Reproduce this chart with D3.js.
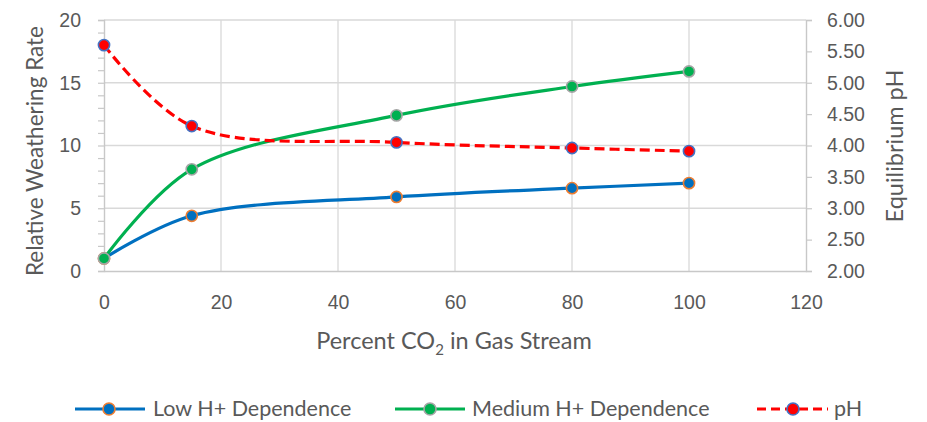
<!DOCTYPE html>
<html>
<head>
<meta charset="utf-8">
<script src="https://cdn.jsdelivr.net/npm/d3@7"></script>
<style>
  html, body { margin: 0; padding: 0; background: #fff; }
  svg { display: block; font-family: Lato, "Open Sans", sans-serif; }
</style>
</head>
<body>
<svg id="chart" width="927" height="422"></svg>
<script>
// Percent CO2 in the gas stream
const co2 = [0, 15, 50, 80, 100];
// Relative weathering rates
const lowH = [1.0, 4.4, 5.9, 6.6, 7.0];
const mediumH = [1.0, 8.1, 12.4, 14.7, 15.9];
// Equilibrium pH
const pH = [5.60, 4.31, 4.05, 3.96, 3.91];

const xTicks = [0, 20, 40, 60, 80, 100, 120];
const yLeftTicks = [0, 5, 10, 15, 20];
const yRightTicks = [2.0, 2.5, 3.0, 3.5, 4.0, 4.5, 5.0, 5.5, 6.0];

const svg = d3.select("#chart");
const m = { left: 104, right: 806, top: 20, bottom: 271 };

const x = d3.scaleLinear().domain([0, 120]).range([m.left, m.right]);
const yL = d3.scaleLinear().domain([0, 20]).range([m.bottom, m.top]);
const yR = d3.scaleLinear().domain([2, 6]).range([m.bottom, m.top]);

const grid = "#d9d9d9";
const axisCol = "#c8c8c8";
const textCol = "#595959";
const tickFont = 19.5;

// gridlines
svg.append("g").selectAll("line").data(yLeftTicks.slice(1)).join("line")
  .attr("x1", m.left).attr("x2", m.right)
  .attr("y1", d => yL(d)).attr("y2", d => yL(d))
  .attr("stroke", grid).attr("stroke-width", 1.3);
svg.append("g").selectAll("line").data(xTicks.slice(1, -1)).join("line")
  .attr("x1", d => x(d)).attr("x2", d => x(d))
  .attr("y1", m.top).attr("y2", m.bottom)
  .attr("stroke", grid).attr("stroke-width", 1.3);

// left axis with minor ticks at every unit
const gL = svg.append("g").attr("transform", `translate(${m.left},0)`)
  .call(d3.axisLeft(yL).tickValues(d3.range(0, 21, 1)).tickSize(6)
    .tickFormat(d => yLeftTicks.includes(d) ? d : ""));
gL.select(".domain").attr("stroke", axisCol).attr("stroke-width", 1.4);
gL.selectAll(".tick line").attr("stroke", axisCol).attr("stroke-width", 1.2);
gL.selectAll(".tick text").attr("fill", textCol).attr("font-size", tickFont).attr("x", -23);

// right axis
const gR = svg.append("g").attr("transform", `translate(${m.right},0)`)
  .call(d3.axisRight(yR).tickValues(yRightTicks).tickSize(6).tickFormat(d3.format(".2f")));
gR.select(".domain").attr("stroke", axisCol).attr("stroke-width", 1.4);
gR.selectAll(".tick line").attr("stroke", axisCol).attr("stroke-width", 1.2);
gR.selectAll(".tick text").attr("fill", textCol).attr("font-size", tickFont).attr("x", 21);

// bottom axis
const gB = svg.append("g").attr("transform", `translate(0,${m.bottom})`)
  .call(d3.axisBottom(x).tickValues(xTicks).tickSize(0));
gB.select(".domain").attr("stroke", axisCol).attr("stroke-width", 1.4);
gB.selectAll(".tick text").attr("fill", textCol).attr("font-size", tickFont).attr("y", 24);

// axis titles
svg.append("text").attr("transform", `translate(43,151) rotate(-90)`)
  .attr("text-anchor", "middle").attr("fill", textCol).attr("font-size", 22.5)
  .text("Relative Weathering Rate");
svg.append("text").attr("transform", `translate(903,146) rotate(-90)`)
  .attr("text-anchor", "middle").attr("fill", textCol).attr("font-size", 23.5)
  .text("Equilibrium pH");
const xt = svg.append("text").attr("x", 454).attr("y", 349)
  .attr("text-anchor", "middle").attr("fill", textCol).attr("font-size", 23.5);
xt.append("tspan").text("Percent CO");
xt.append("tspan").attr("font-size", 15).attr("dy", 6).text("2");
xt.append("tspan").attr("dy", -6).text(" in Gas Stream");

// series
const series = [
  { name: "Low H+ Dependence", vals: lowH, y: yL, line: "#0070C0", fill: "#0070C0", stroke: "#ED7D31", dash: null },
  { name: "Medium H+ Dependence", vals: mediumH, y: yL, line: "#00B050", fill: "#00B050", stroke: "#A5A5A5", dash: null },
  { name: "pH", vals: pH, y: yR, line: "#FF0000", fill: "#FF0000", stroke: "#4472C4", dash: "10,5" }
];

series.forEach(s => {
  const pts = co2.map((c, i) => [c, s.vals[i]]);
  const line = d3.line().x(d => x(d[0])).y(d => s.y(d[1])).curve(d3.curveCatmullRom.alpha(0.5));
  svg.append("path").datum(pts).attr("d", line)
    .attr("fill", "none").attr("stroke", s.line).attr("stroke-width", 3.2)
    .attr("stroke-dasharray", s.dash);
  svg.append("g").selectAll("circle").data(pts).join("circle")
    .attr("cx", d => x(d[0])).attr("cy", d => s.y(d[1])).attr("r", 5.6)
    .attr("fill", s.fill).attr("stroke", s.stroke).attr("stroke-width", 1.6);
});

// legend
const legend = [
  { s: series[0], x1: 75, x2: 145, mx: 109, tx: 153 },
  { s: series[1], x1: 395, x2: 465, mx: 430, tx: 472 },
  { s: series[2], x1: 757, x2: 828, mx: 793, tx: 834 }
];
const ly = 409;
legend.forEach(l => {
  svg.append("line").attr("x1", l.x1).attr("x2", l.x2).attr("y1", ly).attr("y2", ly)
    .attr("stroke", l.s.line).attr("stroke-width", 3.2).attr("stroke-dasharray", l.s.dash ? "9,5" : null);
  svg.append("circle").attr("cx", l.mx).attr("cy", ly).attr("r", 6)
    .attr("fill", l.s.fill).attr("stroke", l.s.stroke).attr("stroke-width", 1.6);
  svg.append("text").attr("x", l.tx).attr("y", 416)
    .attr("fill", textCol).attr("font-size", 21.5).text(l.s.name);
});
</script>
</body>
</html>
